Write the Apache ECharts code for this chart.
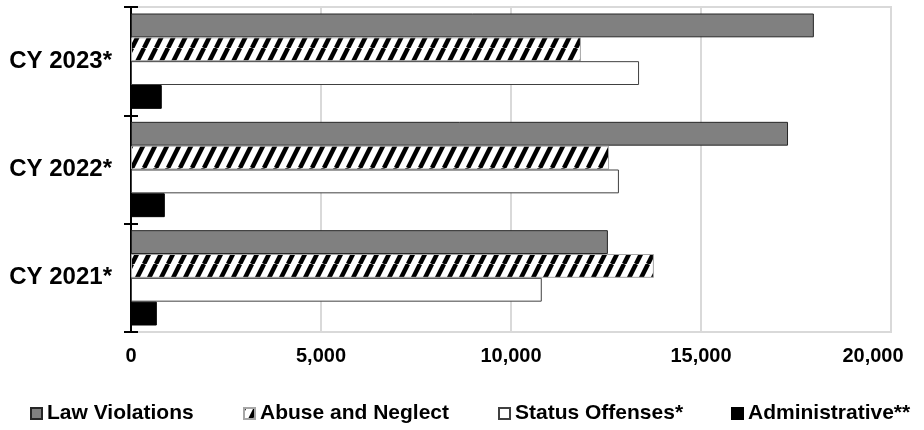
<!DOCTYPE html>
<html>
	<head>
		<meta charset="utf-8">
		<title></title>
		<style>
			html,body{margin:0;padding:0;background:#fff;}
			#main{
				width: 924px;
				height: 430px;
			}
		</style>
	</head>
	<body>
		<div id="main"></div>
		<script src="https://cdn.jsdelivr.net/npm/echarts@6/dist/echarts.min.js"></script>
		<script>
			// categories (bottom to top)
			var years=['CY 2021*','CY 2022*','CY 2023*']
			var lawViolations=[12550,17290,17970]
			var abuseNeglect=[13760,12580,11840]
			var statusOffenses=[10810,12840,13370]
			var administrative=[680,890,810]
			var xTicks=[0,5000,10000,15000,20000]
			var seriesNames=['Law Violations','Abuse and Neglect','Status Offenses*','Administrative**']

			// hatch pattern "/" black on white
			var hatch=document.createElement('canvas')
			hatch.width=12
			hatch.height=24
			var ctx=hatch.getContext('2d')
			ctx.fillStyle='#fff'
			ctx.fillRect(0,0,12,24)
			ctx.strokeStyle='#000'
			ctx.lineWidth=4.5
			;[-12,0,12].forEach(function(dx){
				ctx.beginPath()
				ctx.moveTo(dx,24)
				ctx.lineTo(dx+12,0)
				ctx.stroke()
			})

			var font='"Liberation Sans", Arial, sans-serif'
			// one legend per item, placed like the original
			var legendLeft=[30,243,498,731]
			var legends=seriesNames.map(function(n,i){
				return {
					top:403,
					left:legendLeft[i],
					padding:0,
					icon:'rect',
					itemWidth:11,
					itemHeight:11,
					textStyle:{fontSize:21,fontWeight:'bold',color:'#000',fontFamily:font},
					data:[n]
				}
			})

			var mychart=echarts.init(document.getElementById("main"))
			var option={
				animation:false,
				textStyle:{fontFamily:font},
				legend:legends,
				grid:{left:131,right:33,top:7,bottom:98,show:true,borderColor:'#d9d9d9',borderWidth:2},
				xAxis:{
					type:'value',
					min:xTicks[0],
					max:xTicks[xTicks.length-1],
					interval:5000,
					axisLine:{show:true,lineStyle:{color:'#d9d9d9',width:2}},
					axisTick:{show:false},
					splitLine:{lineStyle:{color:'#d9d9d9',width:2}},
					axisLabel:{
						margin:14,
						fontSize:20,fontWeight:'bold',color:'#000',fontFamily:font,
						formatter:function(v){
							var s=v.toLocaleString('en-US')
							return v===xTicks[xTicks.length-1]?'{last|'+s+'}':s
						},
						rich:{last:{fontSize:20,fontWeight:'bold',color:'#000',fontFamily:font,padding:[0,36,0,0]}}
					}
				},
				yAxis:[
					{
						type:'category',
						data:years,
						axisLine:{show:true,lineStyle:{color:'#000',width:2}},
						axisTick:{show:true,alignWithLabel:false,length:7,lineStyle:{color:'#000',width:2}},
						axisLabel:{margin:19,fontSize:24,fontWeight:'bold',color:'#000',fontFamily:font}
					},
					{
						// inner half of the cross ticks
						type:'category',
						data:years,
						position:'left',
						axisLine:{show:false},
						axisTick:{show:true,inside:true,alignWithLabel:false,length:7,lineStyle:{color:'#000',width:2}},
						axisLabel:{show:false}
					}
				],
				series:[
					{
						name:seriesNames[0],type:'bar',data:lawViolations,
						barCategoryGap:'12%',barGap:'0%',
						itemStyle:{color:'#808080',borderColor:'#262626',borderWidth:1}
					},
					{
						name:seriesNames[1],type:'bar',data:abuseNeglect,
						barCategoryGap:'12%',barGap:'0%',
						itemStyle:{color:{image:hatch,repeat:'repeat'},borderColor:'#a6a6a6',borderWidth:1}
					},
					{
						name:seriesNames[2],type:'bar',data:statusOffenses,
						barCategoryGap:'12%',barGap:'0%',
						itemStyle:{color:'#fff',borderColor:'#404040',borderWidth:1}
					},
					{
						name:seriesNames[3],type:'bar',data:administrative,
						barCategoryGap:'12%',barGap:'0%',
						itemStyle:{color:'#000',borderColor:'#000',borderWidth:1}
					}
				]
			};
			mychart.setOption(option);
		</script>
	</body>
</html>
